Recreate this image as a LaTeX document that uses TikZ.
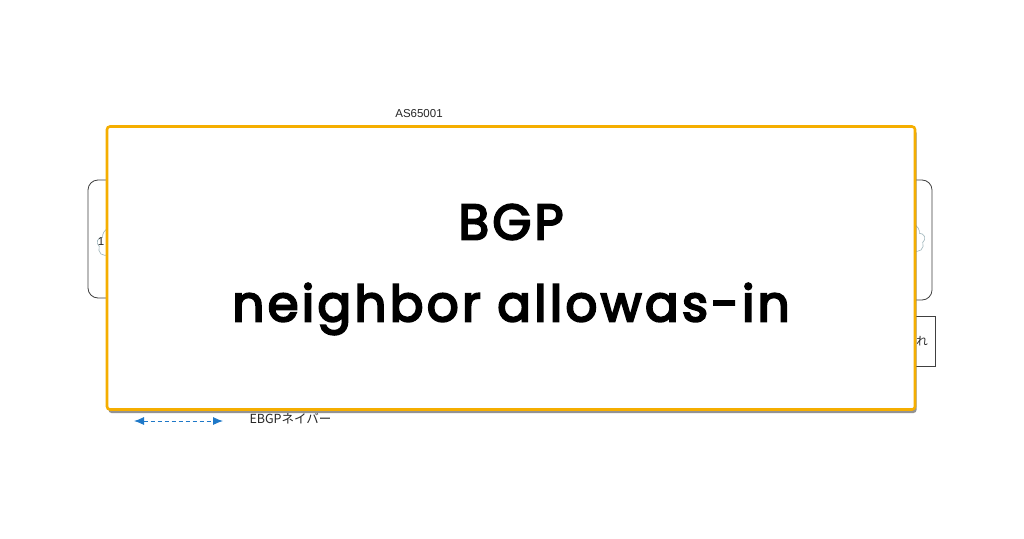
\documentclass[tikz,border=0pt]{standalone}
\usepackage{fontspec}
\setmainfont{Liberation Sans}
\newfontfamily\titlefont{Poppins}[FakeBold=4,LetterSpace=6.5]
\newfontfamily\jpfont{Noto Sans CJK JP}
\usetikzlibrary{shadows,shapes.symbols,arrows.meta}
\definecolor{frameorange}{HTML}{F5AE00}
\definecolor{linkblue}{HTML}{1E78C8}
\definecolor{cloudgray}{HTML}{9DB4BA}
\begin{document}
\begin{tikzpicture}[x=1pt,y=-1pt,
  asbox/.style={draw=black!75,line width=0.8pt,rounded corners=10pt},
  plainbox/.style={draw=black!75,line width=0.7pt},
  cloudshape/.style={cloud,cloud puffs=9,draw=cloudgray,line width=0.6pt,minimum width=60pt,minimum height=40pt,aspect=1.5},
  label/.style={font=\fontsize{11.5}{13}\selectfont,text=black!85},
  titlebox/.style={draw=frameorange,line width=2.6pt,rounded corners=3pt,fill=white,
    drop shadow={shadow xshift=1.5pt,shadow yshift=-3.5pt,opacity=0.7,fill=black!60}},
  titletext/.style={font=\titlefont\fontsize{50}{60}\selectfont,align=center}]
\useasboundingbox (0,0) rectangle (1024,538);
\fill[white] (0,0) rectangle (1024,538);
% hidden background diagram parts
\draw[asbox] (88,180) rectangle (300,298);
\draw[asbox] (720,180) rectangle (932,300);
\node[plainbox,minimum width=40pt,minimum height=50pt] (rbox) at (915,341) {};
\node[label,anchor=east,inner sep=1pt] (rtxt) at (929,341) {\jpfont れ};
\node[cloudshape] (lcloud) at (127,244) {};
\node[cloudshape] (rcloud) at (895,240) {};
\node[label,inner sep=0pt] (lnum) at (101,242) {1};
\node[label] (asname) at (419,114) {AS65001};
% legend
\coordinate (la) at (134,421);
\coordinate (lb) at (223,421);
\draw[linkblue,dash pattern=on 4pt off 3pt,line width=0.9pt,{Latex[length=10pt,width=8pt]}-{Latex[length=10pt,width=8pt]}] (la) -- (lb);
\node[anchor=west,font=\jpfont\fontsize{12.5}{14}\selectfont,text=black!85] (ebgp) at (246,419) {EBGPネイバー};
% title box
\node[titlebox,minimum width=808pt,minimum height=283pt] (title) at (511,268) {};
\node[titletext] (t1) at (511,222) {BGP};
\node[titletext] (t2) at (511,309) {neighbor allowas-in};
\end{tikzpicture}
\end{document}
